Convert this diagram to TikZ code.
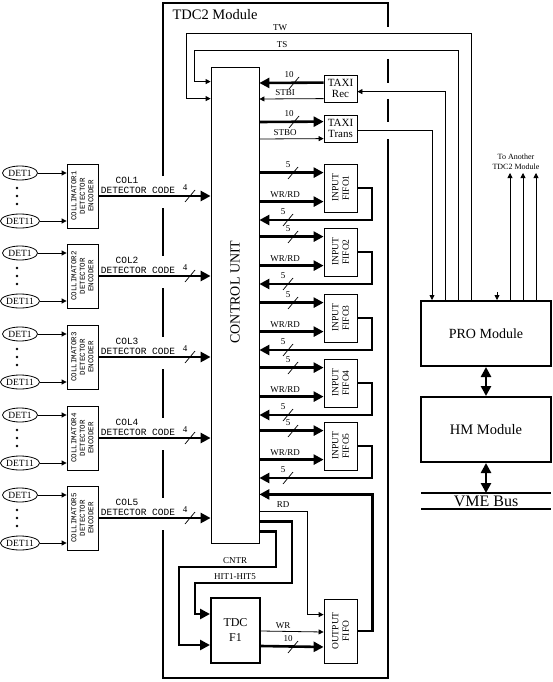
\documentclass[tikz,border=0pt]{standalone}
\usepackage{fontspec}
\setmainfont{Liberation Serif}
\newfontfamily\codefont{Liberation Mono}
\usepackage{tikz}
\usetikzlibrary{positioning}
\usetikzlibrary{arrows.meta}
\usetikzlibrary{shapes.geometric}
\usetikzlibrary{calc}

\tikzset{
  blk/.style={draw, line width=0.8pt, inner sep=0pt},
  heavyblk/.style={draw, line width=2pt, inner sep=0pt},
  sig/.style={line width=0.8pt, -{Triangle[length=5pt,width=5pt]}},
  bus/.style={line width=2.6pt, -{Triangle[length=10pt,width=10pt]}},
  dbus/.style={line width=2.6pt, {Triangle[length=10pt,width=10pt]}-{Triangle[length=10pt,width=10pt]}},
  frame/.style={line width=2.8pt},
  det/.style={ellipse, draw, line width=0.8pt, minimum width=35pt, minimum height=14pt,
    inner sep=0pt, font=\fontsize{9.5}{9.5}\selectfont},
  lbl/.style={font=\fontsize{9}{9}\selectfont, inner sep=0.5pt},
  codelbl/.style={font=\codefont\fontsize{9.5}{10}\selectfont, inner sep=0pt},
  vlbl/.style={rotate=90, align=center, inner sep=0pt},
}
\newcommand{\busmark}[3]{%
  \draw[line width=0.7pt] (#1-5,#2+6) -- (#1+5,#2-6);
  \node[lbl] at (#1-5,#2-8) {#3};}

\begin{document}
\begin{tikzpicture}[x=1pt, y=-1pt]
\useasboundingbox (0,0) rectangle (553,682);

% TDC2 module frame, broken where labels and signals pass
\draw[frame] (163,176) -- (163,3) -- (388,3) -- (388,27);
\draw[frame] (388,59) -- (388,83);
\draw[frame] (388,99) -- (388,122);
\draw[frame] (388,139) -- (388,678) -- (163,678) -- (163,530);
\foreach \a/\b in {208/256,288/337,369/418,450/498}
  \draw[frame] (163,\a) -- (163,\b);
\node[anchor=west, font=\fontsize{14.5}{14.5}\selectfont] at (169,15) {TDC2 Module};

% Control unit
\node[blk, minimum width=48pt, minimum height=476pt] (cu) at (235,305) {};
\node[vlbl, font=\fontsize{14}{14}\selectfont] at ([yshift=13pt]cu.center) {CONTROL UNIT};

% TAXI receiver and transmitter
\node[blk, minimum width=33pt, minimum height=27pt, align=center,
  font=\fontsize{11}{11}\selectfont] (rec) at (340.5,88.5) {TAXI\\Rec};
\node[blk, minimum width=33pt, minimum height=27pt, align=center,
  font=\fontsize{11}{11}\selectfont] (trans) at (340.5,128.5) {TAXI\\Trans};

\draw[bus] ([yshift=-8pt]rec.north west) -- (cu.east |- 0,83);
\busmark{294}{83}{10}
\draw[sig] ([yshift=-24pt]rec.north west) -- (cu.east |- 0,99);
\node[lbl] at (285,93) {STBI};

\draw[bus] (cu.east |- 0,122) -- ([yshift=-7pt]trans.north west);
\busmark{294}{122}{10}
\draw[sig] (cu.east |- 0,139) -- ([yshift=-24pt]trans.north west);
\node[lbl] at (285,133) {STBO};

% PRO module, HM module and VME bus
\node[heavyblk, minimum width=130pt, minimum height=65pt,
  font=\fontsize{14}{14}\selectfont] (pro) at (486,333.5) {PRO Module};
\node[heavyblk, minimum width=130pt, minimum height=65pt,
  font=\fontsize{14.5}{14.5}\selectfont] (hm) at (486,429.5) {HM Module};
\coordinate (vme) at (486,493);
\draw[line width=1.3pt] ([xshift=-65pt]vme) -- ([xshift=65pt]vme);
\draw[line width=1.3pt] ([xshift=-65pt,yshift=-16pt]vme) -- ([xshift=65pt,yshift=-16pt]vme);
\node[font=\fontsize{16}{16}\selectfont, inner sep=0pt] at ([yshift=-8.5pt]vme) {VME Bus};
\draw[dbus] (pro.south) -- (hm.north);
\draw[dbus] (hm.south) -- (vme);

% Links between PRO module and TDC2 module
\draw[sig] ([xshift=51pt]pro.north west) |- (186,33) |- ([yshift=-32pt]cu.north west);
\node[lbl] at (280,28) {TW};
\draw[sig] ([xshift=38pt]pro.north west) |- (194,50) |- ([yshift=-15pt]cu.north west);
\node[lbl] at (282,45) {TS};
\draw[sig] ([xshift=25pt]pro.north west) |- ([yshift=-17pt]rec.north east);
\draw[sig] ([yshift=-16pt]trans.north east) -| ([xshift=12pt]pro.north west);
\draw[sig] ([xshift=77pt,yshift=8pt]pro.north west) -- ([xshift=77pt]pro.north west);
\foreach \dx in {90,103,116}
  \draw[sig] ([xshift=\dx pt]pro.north west) -- ++(0,-127);
\node[align=center, font=\fontsize{8}{10.5}\selectfont] at (516,162) {To Another\\TDC2 Module};

% Input FIFOs
\foreach \i/\t in {1/164,2/228,3/294,4/359,5/422}{
  \node[blk, minimum width=33pt, minimum height=48pt] (fifo\i) at (340.5,\t+24) {};
  \node[vlbl, font=\fontsize{9.5}{10.5}\selectfont] at (fifo\i) {INPUT\\FIFO\i};
  \coordinate (din\i) at ([yshift=-9pt]fifo\i.north west);
  \coordinate (wr\i) at ([yshift=-38pt]fifo\i.north west);
  \coordinate (ret\i) at (372,\t+56);
  \draw[bus] (cu.east |- din\i) -- (din\i);
  \busmark{293}{\t+9}{5}
  \draw[bus] (cu.east |- wr\i) -- (wr\i);
  \node[lbl] at (285,\t+31) {WR/RD};
  \draw[bus] (fifo\i.east) -| (ret\i) -- (cu.east |- ret\i);
  \busmark{288}{\t+56}{5}
}

% Collimator detector encoders
\foreach \i/\t in {1/164,2/244,3/325,4/406,5/486}{
  \node[blk, minimum width=31pt, minimum height=64pt] (col\i) at (82.5,\t+32) {};
  \node[vlbl, font=\codefont\fontsize{7.5}{8.5}\selectfont] at (col\i)
    {COLLIMATOR\i\\DETECTOR\\ENCODER};
  \node[det] (da\i) at (20,\t+9) {DET1};
  \node[det] (db\i) at (20,\t+57) {DET11};
  \draw[sig] (da\i) -- (col\i.west |- da\i);
  \draw[sig] (db\i) -- (col\i.west |- db\i);
  \foreach \d in {24,32,40}
    \fill (17,\t+\d) circle (1.3pt);
  \draw[bus] (col\i.east) -- (cu.west |- col\i.east);
  \node[codelbl] at (127,\t+16) {COL\i};
  \node[codelbl] at (138,\t+26) {DETECTOR CODE};
  \busmark{190}{\t+32}{4}
}

% TDC F1 and output FIFO
\node[heavyblk, minimum width=49pt, minimum height=65pt, align=center,
  font=\fontsize{12}{15}\selectfont] (tdc) at (235.5,630.5) {TDC\\F1};
\node[blk, minimum width=33pt, minimum height=64pt] (ofifo) at (340.5,631) {};
\node[vlbl, font=\fontsize{9.5}{10.5}\selectfont] at (ofifo) {OUTPUT\\FIFO};

\draw[sig] ([yshift=32pt]cu.south east) -| ($(ofifo.north west)+(-16,16)$)
  -- ([yshift=-16pt]ofifo.north west);
\node[lbl] at (283,505) {RD};
\draw[bus] (ofifo.east) -- ++(15,0) |- ([yshift=49pt]cu.south east);
\draw[bus] ([yshift=22pt]cu.south east) -| (292,583) -- (195,583)
  |- ([yshift=-17pt]tdc.north west);
\node[lbl] at (235,577) {HIT1-HIT5};
\draw[bus] ([yshift=12pt]cu.south east) -| (276,567) -- (179,567)
  |- ([yshift=-48pt]tdc.north west);
\node[lbl] at (235,561) {CNTR};
\draw[sig] ([yshift=-34pt]tdc.north east) -- (ofifo.west |- 0,632);
\node[lbl] at (283,626) {WR};
\draw[bus] ([yshift=-49pt]tdc.north east) -- (ofifo.west |- 0,647);
\busmark{293}{647}{10}

\end{tikzpicture}
\end{document}
